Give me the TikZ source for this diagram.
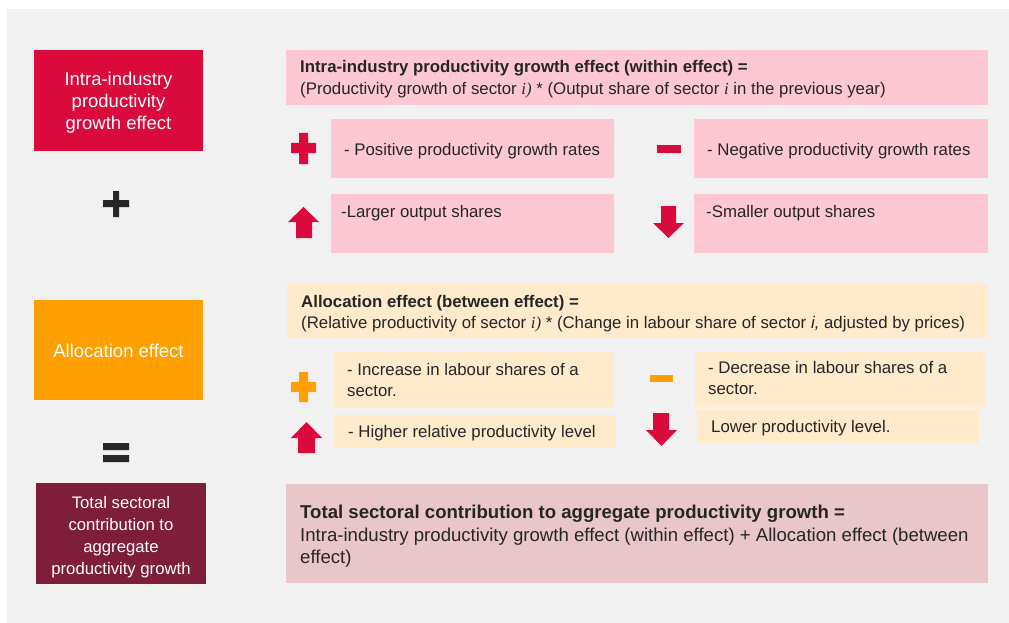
\documentclass[tikz,border=0pt]{standalone}
\usepackage{fontspec}
\setmainfont{Liberation Sans}
\newfontfamily\serifital{Liberation Serif}
\definecolor{bggrey}{HTML}{F1F1F1}
\definecolor{crimson}{HTML}{DA0A3C}
\definecolor{pinkbox}{HTML}{FDC8D3}
\definecolor{amber}{HTML}{FFA000}
\definecolor{creambox}{HTML}{FFEACC}
\definecolor{wine}{HTML}{7E1E3A}
\definecolor{rosebox}{HTML}{E8C6C9}
\definecolor{ink}{HTML}{262626}
\newcommand\fsmall{\fontsize{16.8}{21}\selectfont}
\newcommand\fbig{\fontsize{18.6}{23}\selectfont}
\newcommand\fleft{\fontsize{18.5}{22}\selectfont}
\newcommand\fleftsm{\fontsize{16.7}{22}\selectfont}
\newcommand\sit[1]{{\serifital\itshape #1}}
\begin{document}
\begin{tikzpicture}[x=1pt,y=-1pt,
  box/.style={inner sep=0pt, outer sep=0pt, anchor=north west, draw=none},
  txt/.style={inner sep=0pt, anchor=base west, text=ink},
  ltxt/.style={inner sep=0pt, anchor=base, text=white},
  icon/.style={draw=none}]
\useasboundingbox (0,0) rectangle (1009,623);
\fill[bggrey] (7,9) rectangle (1009,623);

% left column: the three terms of the decomposition
\node[box, fill=crimson, minimum width=169pt, minimum height=101pt] (within) at (34,50) {};
\node[ltxt, font=\fleft] (withinA) at (118.5,86) {Intra-industry};
\node[ltxt, font=\fleft] (withinB) at (118.5,108) {productivity};
\node[ltxt, font=\fleft] (withinC) at (118.5,130) {growth effect};

\fill[ink] (103,200) rectangle (129,207) (113,191) rectangle (119,217);

\node[box, fill=amber, minimum width=169pt, minimum height=100pt] (alloc) at (34,300) {};
\node[ltxt, font=\fleft] (allocA) at (118.5,357) {Allocation effect};

\fill[ink] (103,443) rectangle (129,450) (103,455) rectangle (129,462);

\node[box, fill=wine, minimum width=170pt, minimum height=101pt] (total) at (36,483) {};
\node[ltxt, font=\fleftsm] (totalA) at (121,508) {Total sectoral};
\node[ltxt, font=\fleftsm] (totalB) at (121,530) {contribution to};
\node[ltxt, font=\fleftsm] (totalC) at (121,552) {aggregate};
\node[ltxt, font=\fleftsm] (totalD) at (121,574) {productivity growth};

% within effect
\node[box, fill=pinkbox, minimum width=702pt, minimum height=55pt] (hwithin) at (286,50) {};
\node[txt, font=\fsmall\bfseries] (hwithinA) at (300,73) {Intra-industry productivity growth effect (within effect) =};
\node[txt, font=\fsmall] (hwithinB) at (300,95) {(Productivity growth of sector \sit{i)} * (Output share of sector \sit{i} in the previous year)};

\fill[crimson] (291,143) rectangle (316,153) (299,133) rectangle (308,164);
\node[box, fill=pinkbox, minimum width=283pt, minimum height=59pt] (pos) at (331,119) {};
\node[txt, font=\fsmall] (posT) at (344,155) {- Positive productivity growth rates};

\fill[crimson] (657,145) rectangle (681,153);
\node[box, fill=pinkbox, minimum width=294pt, minimum height=59pt] (neg) at (694,119) {};
\node[txt, font=\fsmall] (negT) at (707,155) {- Negative productivity growth rates};

\fill[crimson] (303.5,207) -- (319,222) -- (312,222) -- (312,238) -- (296,238) -- (296,222) -- (288,222) -- cycle;
\node[box, fill=pinkbox, minimum width=283pt, minimum height=59pt] (larger) at (331,194) {};
\node[txt, font=\fsmall] (largerT) at (341,217) {-Larger output shares};

\fill[crimson] (668.5,238) -- (684,223) -- (676,223) -- (676,206) -- (661,206) -- (661,223) -- (653,223) -- cycle;
\node[box, fill=pinkbox, minimum width=294pt, minimum height=59pt] (smaller) at (694,194) {};
\node[txt, font=\fsmall] (smallerT) at (706,217) {-Smaller output shares};

% allocation effect
\node[box, fill=creambox, minimum width=701pt, minimum height=55pt] (halloc) at (287,283) {};
\node[txt, font=\fsmall\bfseries] (hallocA) at (301,307) {Allocation effect (between effect) =};
\node[txt, font=\fsmall] (hallocB) at (301,328) {(Relative productivity of sector \sit{i)} * (Change in labour share of sector \textit{i,} adjusted by prices)};

\fill[amber] (291,382) rectangle (316,392) (299,372) rectangle (308,402);
\node[box, fill=creambox, minimum width=281pt, minimum height=56pt] (inc) at (333,352) {};
\node[txt, font=\fsmall] (incA) at (347,375) {- Increase in labour shares of a};
\node[txt, font=\fsmall] (incB) at (347,396) {sector.};

\fill[amber] (650,375) rectangle (673,382);
\node[box, fill=creambox, minimum width=291pt, minimum height=55pt] (dec) at (695,352) {};
\node[txt, font=\fsmall] (decA) at (708,373) {- Decrease in labour shares of a};
\node[txt, font=\fsmall] (decB) at (708,394) {sector.};

\fill[crimson] (306.5,422) -- (322,438) -- (315,438) -- (315,453) -- (298,453) -- (298,438) -- (291,438) -- cycle;
\node[box, fill=creambox, minimum width=282pt, minimum height=33pt] (higher) at (334,415) {};
\node[txt, font=\fsmall] (higherT) at (348,437) {- Higher relative productivity level};

\fill[crimson] (661.5,446) -- (677,430) -- (669,430) -- (669,413) -- (653,413) -- (653,430) -- (646,430) -- cycle;
\node[box, fill=creambox, minimum width=282pt, minimum height=34pt] (lower) at (697,410) {};
\node[txt, font=\fsmall] (lowerT) at (711,432) {Lower productivity level.};

% total contribution
\node[box, fill=rosebox, minimum width=702pt, minimum height=99pt] (htotal) at (286,484) {};
\node[txt, font=\fbig\bfseries] (htotalA) at (300,518) {Total sectoral contribution to aggregate productivity growth =};
\node[txt, font=\fbig] (htotalB) at (300,541) {Intra-industry productivity growth effect (within effect) + Allocation effect (between};
\node[txt, font=\fbig] (htotalC) at (300,563) {effect)};
\end{tikzpicture}
\end{document}
